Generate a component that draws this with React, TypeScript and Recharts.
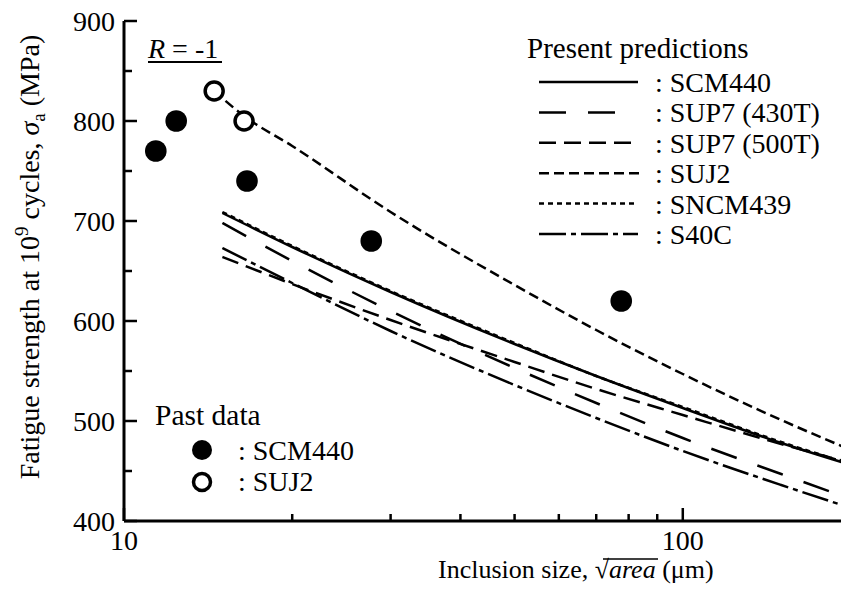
import React from 'react';
import { ComposedChart, Line, Scatter, XAxis, YAxis } from 'recharts';

// inclusion size sqrt(area), um
const predSizes = [15, 20, 30, 50, 70, 100, 150, 200];
const scm440Pred = [708, 674, 629, 577, 545, 513, 478, 456];
const sncm439Pred = [709, 675, 630, 578, 545, 514, 479, 457];
const sup7430Pred = [698, 660, 610, 553, 518, 483, 447, 422];
const sup7500Pred = [664, 637, 601, 559, 532, 506, 477, 458];
const s40cPred = [673, 638, 590, 536, 503, 470, 436, 413];
const suj2Sizes = [14.5, 16.4, 20, 30, 50, 70, 100, 150, 200];
const suj2Pred = [830, 805, 775, 709, 636, 591, 547, 501, 471];

// past data
const scm440PastX = [11.4, 12.4, 16.6, 27.7, 77.6];
const scm440PastY = [770, 800, 740, 680, 620];
const suj2PastX = [14.5, 16.4];
const suj2PastY = [830, 800];

const xTicks = [10, 20, 30, 40, 50, 60, 70, 80, 90, 100, 200];
const yTicks = [400, 450, 500, 550, 600, 650, 700, 750, 800, 850, 900];
const xLabelled = [10, 100];

const toPoints = (xs: number[], ys: number[]) => xs.map((x, i) => ({ x, y: ys[i] }));

const FONT = "'Liberation Serif', 'Times New Roman', serif";
const LEFT = 124;
const RIGHT = 851;
const TOP = 21;
const BOTTOM = 521;

const series = [
  { name: 'SCM440', xs: predSizes, ys: scm440Pred, dash: undefined, legendLen: 99 },
  { name: 'SUP7 (430T)', xs: predSizes, ys: sup7430Pred, dash: '27 22', legendLen: 77 },
  { name: 'SUP7 (500T)', xs: predSizes, ys: sup7500Pred, dash: '17 8', legendLen: 92 },
  { name: 'SUJ2', xs: suj2Sizes, ys: suj2Pred, dash: '10 5', legendLen: 100 },
  { name: 'SNCM439', xs: predSizes, ys: sncm439Pred, dash: '5 4', legendLen: 98 },
  { name: 'S40C', xs: predSizes, ys: s40cPred, dash: '27 5 5 5', legendLen: 99 },
];

const BottomTick = (props: any) => {
  const { x, payload } = props;
  const major = xLabelled.includes(payload.value);
  return (
    <g>
      <line x1={x} x2={x} y1={BOTTOM} y2={BOTTOM - (major ? 13 : 7)} stroke="#000" strokeWidth={2.5} />
      {major && (
        <text x={x} y={550} textAnchor="middle" fontFamily={FONT} fontSize={28} fill="#000">
          {payload.value}
        </text>
      )}
    </g>
  );
};

const TopTick = (props: any) => {
  const { x, payload } = props;
  const major = xLabelled.includes(payload.value);
  return <line x1={x} x2={x} y1={TOP} y2={TOP + (major ? 14 : 7)} stroke="#000" strokeWidth={2.5} />;
};

const LeftTick = (props: any) => {
  const { y, payload } = props;
  const major = payload.value % 100 === 0;
  return (
    <g>
      <line x1={LEFT} x2={LEFT + (major ? 13 : 8)} y1={y} y2={y} stroke="#000" strokeWidth={2.5} />
      {major && (
        <text x={115} y={y} dy="0.35em" textAnchor="end" fontFamily={FONT} fontSize={28} fill="#000">
          {payload.value}
        </text>
      )}
    </g>
  );
};

const RightTick = (props: any) => {
  const { y, payload } = props;
  const major = payload.value % 100 === 0;
  return <line x1={RIGHT} x2={RIGHT - (major ? 13 : 8)} y1={y} y2={y} stroke="#000" strokeWidth={2.5} />;
};

const FilledDot = (props: any) => <circle cx={props.cx} cy={props.cy} r={10.8} fill="#000" />;
const OpenDot = (props: any) => (
  <circle cx={props.cx} cy={props.cy} r={9} fill="#fff" stroke="#000" strokeWidth={3.5} />
);

const Overlay = () => {
  const rowY = (i: number) => 82 + i * 30.4;
  return (
    <svg
      width={841}
      height={594}
      style={{ position: 'absolute', left: 0, top: 0, pointerEvents: 'none' }}
      fontFamily={FONT}
      fontSize={28}
    >
      <text x={148} y={58}>
        <tspan fontStyle="italic">R</tspan> = -1
      </text>
      <line x1={148} x2={222} y1={62} y2={62} stroke="#000" strokeWidth={2} />

      <text x={527} y={58} fontSize={29}>Present predictions</text>
      {series.map((s, i) => (
        <g key={s.name}>
          <line
            x1={539}
            x2={539 + s.legendLen}
            y1={rowY(i)}
            y2={rowY(i)}
            stroke="#000"
            strokeWidth={2.5}
            strokeDasharray={s.dash}
          />
          <text x={655} y={rowY(i) + 10}>: {s.name}</text>
        </g>
      ))}

      <text x={155} y={425} fontSize={29.5}>Past data</text>
      <circle cx={202} cy={450} r={10} fill="#000" />
      <text x={238} y={460}>: SCM440</text>
      <circle cx={202} cy={482} r={8.5} fill="#fff" stroke="#000" strokeWidth={3.5} />
      <text x={238} y={491}>: SUJ2</text>

      <text transform="translate(39,257) rotate(-90)" textAnchor="middle">
        Fatigue strength at 10
        <tspan dy={-11} fontSize={19}>9</tspan>
        <tspan dy={11}> cycles, </tspan>
        <tspan fontStyle="italic">σ</tspan>
        <tspan dy={6} fontSize={19}>a</tspan>
        <tspan dy={-6}> (MPa)</tspan>
      </text>

      <text x={438} y={578} fontSize={26}>
        Inclusion size, √<tspan fontStyle="italic">area</tspan> (μm)
      </text>
      <line x1={603} x2={658} y1={559} y2={559} stroke="#000" strokeWidth={1.3} />
    </svg>
  );
};

export default function App() {
  return (
    <div
      style={{
        position: 'absolute',
        left: 0,
        top: 0,
        width: 841,
        height: 594,
        overflow: 'hidden',
        background: '#fff',
      }}
    >
      <ComposedChart width={870} height={594} margin={{ top: TOP, right: 19, bottom: 0, left: 0 }}>
        <XAxis
          dataKey="x"
          type="number"
          scale="log"
          domain={[10, 200]}
          allowDataOverflow
          ticks={xTicks}
          interval={0}
          height={73}
          axisLine={{ stroke: '#000', strokeWidth: 3 }}
          tickLine={false}
          tick={<BottomTick />}
        />
        <XAxis
          xAxisId="top"
          dataKey="x"
          type="number"
          scale="log"
          domain={[10, 200]}
          allowDataOverflow
          orientation="top"
          ticks={xTicks}
          interval={0}
          height={0}
          axisLine={{ stroke: '#000', strokeWidth: 3 }}
          tickLine={false}
          tick={<TopTick />}
        />
        <YAxis
          type="number"
          domain={[400, 900]}
          allowDataOverflow
          ticks={yTicks}
          interval={0}
          width={LEFT}
          axisLine={{ stroke: '#000', strokeWidth: 3 }}
          tickLine={false}
          tick={<LeftTick />}
        />
        <YAxis
          yAxisId="r"
          orientation="right"
          type="number"
          domain={[400, 900]}
          allowDataOverflow
          ticks={yTicks}
          interval={0}
          width={0}
          axisLine={{ stroke: '#000', strokeWidth: 3 }}
          tickLine={false}
          tick={<RightTick />}
        />
        {series.map((s) => (
          <Line
            key={s.name}
            data={toPoints(s.xs, s.ys)}
            dataKey="y"
            type="monotone"
            stroke="#000"
            strokeWidth={2.5}
            strokeDasharray={s.dash}
            dot={false}
            activeDot={false}
            isAnimationActive={false}
          />
        ))}
        <Scatter data={toPoints(scm440PastX, scm440PastY)} dataKey="y" shape={<FilledDot />} isAnimationActive={false} />
        <Scatter data={toPoints(suj2PastX, suj2PastY)} dataKey="y" shape={<OpenDot />} isAnimationActive={false} />
      </ComposedChart>
      <Overlay />
    </div>
  );
}
